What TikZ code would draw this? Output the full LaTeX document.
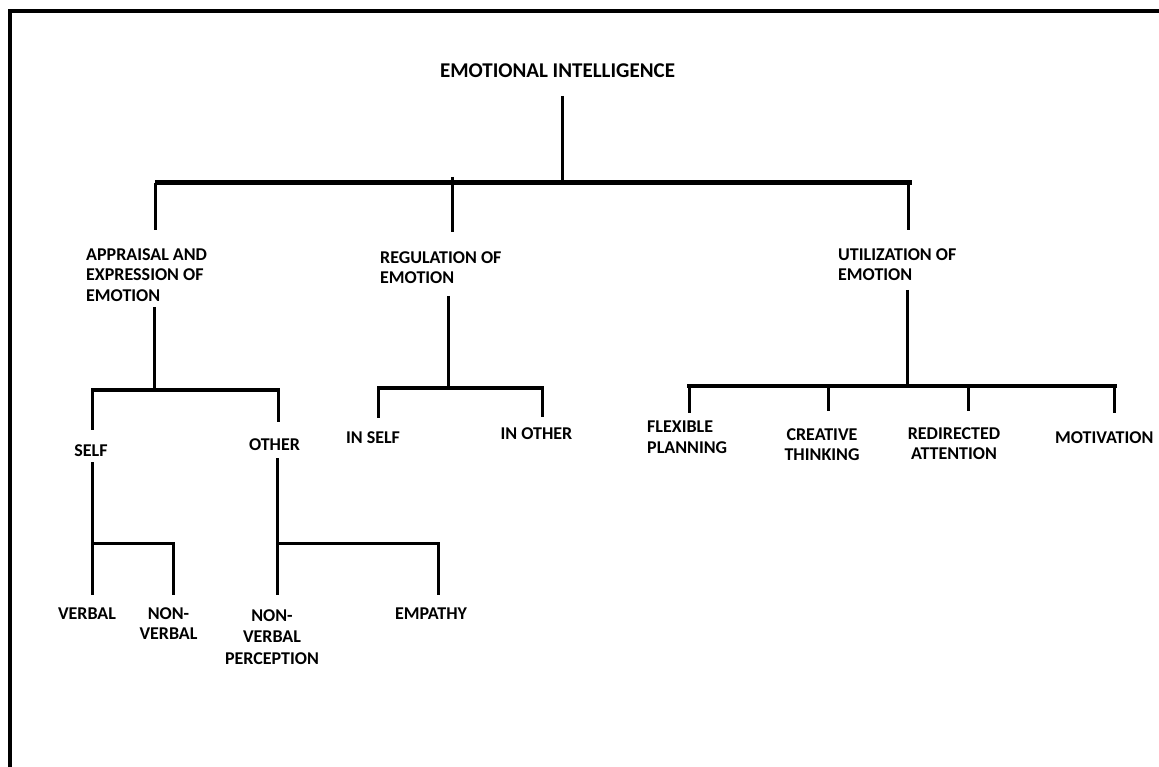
\documentclass[tikz,border=0pt]{standalone}
\usepackage{fontspec}
\setmainfont{Carlito}
\begin{document}
\begin{tikzpicture}[x=1pt,y=-1pt,
  lbl/.style={font=\bfseries\fontsize{18}{20.7}\selectfont, inner sep=0pt, align=left},
  lblc/.style={lbl, align=center},
  big/.style={line width=5pt},
  mid/.style={line width=4pt},
  thin/.style={line width=3pt}]
\useasboundingbox (0,0) rectangle (1159,767);
\fill[white] (0,0) rectangle (1159,767);
% frame
\draw[line width=3.5pt] (10,767) -- (10,11) -- (1159,11);

% title
\node[lblc, font=\bfseries\fontsize{21}{24}\selectfont, anchor=north] (ei) at (557.5,64) {EMOTIONAL INTELLIGENCE};
\coordinate (eiT) at (562,96);
\coordinate (eiB) at (562,183);
\draw[thin] (eiT) -- (eiB);
\coordinate (hL) at (155,183);
\coordinate (hR) at (912,183);
\draw[big] (hL) -- (hR);
\coordinate (hM) at (452,177);

% level 1 labels
\node[lbl, anchor=north west] (app) at (86,248) {APPRAISAL AND\\EXPRESSION OF\\EMOTION};
\node[lbl, anchor=north west] (reg) at (380,251) {REGULATION OF\\EMOTION};
\node[lbl, anchor=north west] (uti) at (838,248) {UTILIZATION OF\\EMOTION};
\coordinate (appT) at (155,230);
\coordinate (regT) at (452,232);
\coordinate (utiT) at (908,230);
\draw[thin] (hL) -- (appT);
\draw[thin] (hM) -- (regT);
\draw[thin] (908,183) -- (utiT);

% appraisal branch
\coordinate (appB) at (154,307);
\coordinate (appH) at (154,390);
\draw[thin] (appB) -- (appH);
\draw[mid] (92,390) -- (280,390);
\node[lblc, anchor=north] (self) at (91,444) {SELF};
\node[lblc, anchor=north] (other) at (274.5,438) {OTHER};
\draw[thin] (92,388) -- (92,430);
\draw[thin] (278,388) -- (278,422);

% self branch
\draw[thin] (92,462) -- (92,595);
\draw[thin] (92,543) -- (173,543) -- (173,595);
\node[lblc, anchor=north] (verbal) at (87,608) {VERBAL};
\node[lblc, anchor=north] (nonverbal) at (168.5,607) {NON-\\VERBAL};

% other branch
\draw[thin] (277,458) -- (277,595);
\draw[thin] (277,543) -- (438,543) -- (438,595);
\node[lblc, anchor=north, font=\bfseries\fontsize{18}{21.5}\selectfont] (nvp) at (272,609) {NON-\\VERBAL\\PERCEPTION};
\node[lblc, anchor=north] (emp) at (431,608) {EMPATHY};

% regulation branch
\draw[thin] (448,296) -- (448,388);
\draw[mid] (378,388) -- (543,388);
\draw[thin] (378,386) -- (378,418);
\draw[thin] (542,386) -- (542,417);
\node[lblc, anchor=north] (inself) at (373,431) {IN SELF};
\node[lblc, anchor=north] (inother) at (536.5,427) {IN OTHER};

% utilization branch
\draw[thin] (907,290) -- (907,386);
\draw[mid] (687,386) -- (1117,386);
\draw[thin] (689,386) -- (689,413);
\draw[thin] (828,386) -- (828,411);
\draw[thin] (968,386) -- (968,411);
\draw[thin] (1114,386) -- (1114,413);
\node[lbl, anchor=north west] (flex) at (647,421) {FLEXIBLE\\PLANNING};
\node[lblc, anchor=north] (crea) at (822,428) {CREATIVE\\THINKING};
\node[lblc, anchor=north] (redir) at (954,427) {REDIRECTED\\ATTENTION};
\node[lbl, anchor=north west] (moti) at (1055,431) {MOTIVATION};
\end{tikzpicture}
\end{document}
